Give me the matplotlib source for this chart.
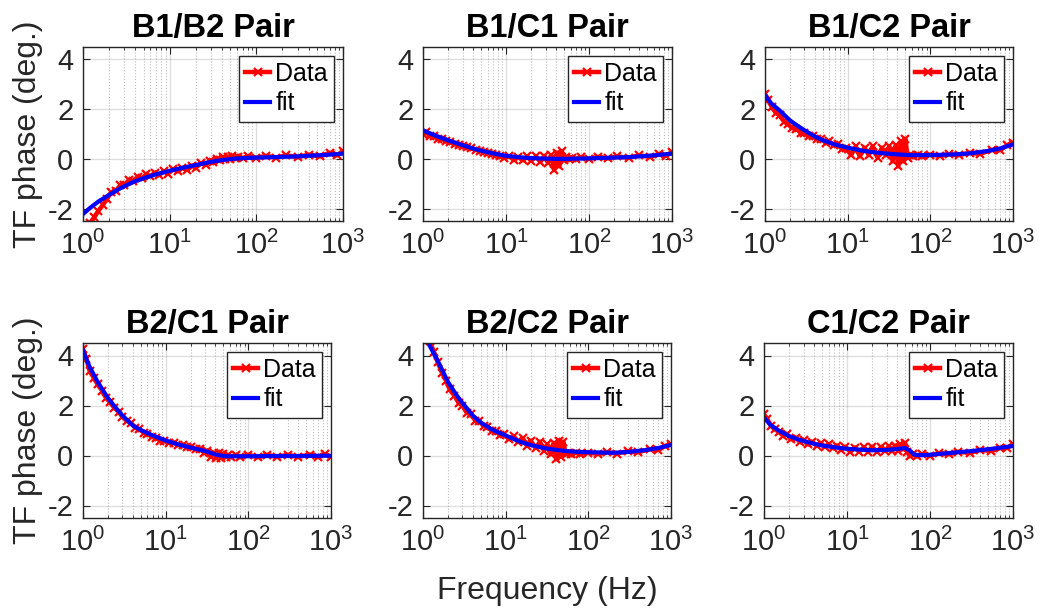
import numpy as np
import matplotlib
matplotlib.use("Agg")
import matplotlib.pyplot as plt
from matplotlib.ticker import LogLocator, NullFormatter

plt.rcParams['font.family'] = ['Liberation Sans', 'DejaVu Sans']
plt.rcParams['axes.unicode_minus'] = False

titles = ['B1/B2 Pair', 'B1/C1 Pair', 'B1/C2 Pair',
          'B2/C1 Pair', 'B2/C2 Pair', 'C1/C2 Pair']

# measured points (Hz)
data_f = [1, 1.1, 1.2, 1.35, 1.5, 1.7, 1.9, 2.1, 2.4, 2.7,
          3, 3.4, 3.8, 4.3, 4.8, 5.4, 6, 6.8, 7.6, 8.5,
          9.5, 11, 12.5, 14, 16, 18, 20, 23, 26, 29,
          32, 35, 38, 41, 44, 47, 50, 53, 57, 62,
          70, 80, 100, 130, 170, 220, 300, 400, 550, 700,
          850, 1000]

data_b1b2 = [-3.2, -2.9, -2.6, -2.35, -2.1, -1.85, -1.6, -1.35, -1.3, -1.05,
             -1.05, -0.85, -0.88, -0.72, -0.78, -0.62, -0.7, -0.55, -0.65, -0.5,
             -0.6, -0.42, -0.5, -0.36, -0.45, -0.28, -0.35, -0.18, -0.24, -0.08,
             -0.14, 0.0, -0.06, 0.06, -0.02, 0.08, 0.0, 0.1, 0.02, 0.09,
             0.03, 0.1, 0.04, 0.12, 0.05, 0.14, 0.07, 0.17, 0.1, 0.24,
             0.14, 0.3]
data_b1c1 = [1.0, 1.08, 0.92, 0.92, 0.8, 0.8, 0.7, 0.68, 0.58, 0.56,
             0.5, 0.46, 0.42, 0.37, 0.33, 0.28, 0.24, 0.2, 0.15, 0.1,
             0.04, 0.1, -0.05, 0.08, -0.06, 0.1, -0.08, 0.1, -0.12, 0.12,
             -0.15, 0.15, -0.45, 0.25, -0.3, 0.3, -0.05, 0.06, -0.02, 0.05,
             -0.01, 0.06, 0.0, 0.08, 0.02, 0.1, 0.04, 0.14, 0.08, 0.2,
             0.13, 0.27]
data_b1c2 = [2.62, 2.35, 2.1, 1.85, 1.75, 1.5, 1.4, 1.25, 1.2, 1.05,
             1.05, 0.9, 0.92, 0.78, 0.8, 0.65, 0.7, 0.55, 0.6, 0.4,
             0.45, 0.15, 0.5, 0.1, 0.45, 0.15, 0.5, 0.05, 0.45, 0.15,
             0.5, -0.1, 0.55, -0.3, 0.7, -0.1, 0.8, 0.05, 0.14, 0.1,
             0.16, 0.1, 0.17, 0.12, 0.19, 0.15, 0.24, 0.2, 0.36, 0.35,
             0.55, 0.65]
data_b2c1 = [4.25, 3.85, 3.4, 3.1, 2.85, 2.6, 2.3, 2.15, 1.9, 1.75,
             1.55, 1.38, 1.3, 1.12, 1.05, 0.92, 0.88, 0.75, 0.72, 0.6,
             0.6, 0.5, 0.52, 0.42, 0.44, 0.33, 0.36, 0.25, 0.28, 0.12,
             0.2, -0.05, 0.12, -0.1, 0.12, -0.1, 0.08, -0.06, 0.02, -0.06,
             0.02, -0.06, 0.03, -0.07, 0.03, -0.06, 0.03, -0.06, 0.04, -0.06,
             0.05, -0.05]
data_b2c2 = [5.2, 4.9, 4.6, 4.15, 3.75, 3.3, 3.0, 2.65, 2.4, 2.1,
             2.0, 1.7, 1.65, 1.4, 1.38, 1.18, 1.15, 0.98, 0.98, 0.82,
             0.85, 0.65, 0.78, 0.55, 0.7, 0.4, 0.6, 0.3, 0.55, 0.2,
             0.45, 0.05, 0.5, -0.15, 0.6, -0.05, 0.55, 0.05, 0.12, 0.06,
             0.12, 0.06, 0.12, 0.06, 0.13, 0.08, 0.17, 0.13, 0.25, 0.22,
             0.38, 0.45]
data_c1c2 = [1.65, 1.45, 1.2, 1.05, 0.95, 0.8, 0.85, 0.65, 0.72, 0.55,
             0.62, 0.45, 0.55, 0.4, 0.5, 0.35, 0.45, 0.3, 0.4, 0.22,
             0.35, 0.15, 0.32, 0.15, 0.33, 0.15, 0.35, 0.15, 0.35, 0.18,
             0.38, 0.18, 0.4, 0.2, 0.45, 0.25, 0.5, 0.15, -0.02, 0.05,
             -0.03, 0.06, 0.0, 0.1, 0.05, 0.15, 0.1, 0.22, 0.18, 0.3,
             0.3, 0.45]

# fitted curves (Hz)
fit_f = [1, 1.2, 1.5, 2, 2.5, 3, 4, 5, 7, 10, 15, 20, 30, 40, 50, 57, 65,
         80, 100, 200, 300, 500, 700, 1000]
fit_b1b2 = [-2.22, -1.98, -1.72, -1.45, -1.25, -1.1, -0.9, -0.78, -0.62, -0.48,
            -0.34, -0.25, -0.12, -0.05, -0.01, 0.01, 0.02, 0.04, 0.05, 0.08,
            0.1, 0.14, 0.17, 0.21]
fit_b1c1 = [1.15, 1.03, 0.9, 0.75, 0.64, 0.55, 0.42, 0.33, 0.22, 0.12,
            0.06, 0.03, 0.01, 0.0, 0.0, 0.0, 0.01, 0.01, 0.02, 0.05,
            0.07, 0.12, 0.16, 0.21]
fit_b1c2 = [2.55, 2.22, 1.95, 1.55, 1.32, 1.15, 0.9, 0.75, 0.58, 0.45,
            0.33, 0.27, 0.21, 0.18, 0.16, 0.15, 0.15, 0.15, 0.15, 0.18,
            0.22, 0.32, 0.42, 0.58]
fit_b2c1 = [4.2, 3.55, 2.95, 2.3, 1.9, 1.6, 1.2, 1.02, 0.8, 0.6,
            0.42, 0.32, 0.18, 0.04, -0.02, -0.03, -0.03, -0.03, -0.03, -0.02,
            -0.02, -0.02, -0.01, -0.01]
fit_b2c2 = [5.0, 4.4, 3.8, 2.95, 2.45, 2.1, 1.6, 1.32, 1.02, 0.8,
            0.55, 0.42, 0.29, 0.23, 0.19, 0.17, 0.16, 0.14, 0.13, 0.11,
            0.14, 0.22, 0.3, 0.42]
fit_c1c2 = [1.52, 1.22, 1.0, 0.78, 0.66, 0.58, 0.47, 0.4, 0.33, 0.27,
            0.23, 0.21, 0.22, 0.26, 0.3, 0.2, 0.03, 0.01, 0.03, 0.12,
            0.17, 0.25, 0.31, 0.38]

data_all = [data_b1b2, data_b1c1, data_b1c2, data_b2c1, data_b2c2, data_c1c2]
fit_all = [fit_b1b2, fit_b1c1, fit_b1c2, fit_b2c1, fit_b2c2, fit_c1c2]

# axes rectangles in pixels: left, right, top, bottom
W, H = 1041, 612
rects = [(83, 343, 47, 221), (423, 672, 47, 221), (765, 1013, 47, 221),
         (83, 331, 343, 518), (423, 671, 343, 518), (764, 1013, 343, 518)]

dark = (0.15, 0.15, 0.15)
fig = plt.figure(figsize=(W / 100, H / 100), dpi=100)

for i in range(6):
    l, r, t, b = rects[i]
    ax = fig.add_axes([l / W, 1 - b / H, (r - l) / W, (b - t) / H])
    ax.plot(data_f, data_all[i], '-x', color='r', lw=3.2, ms=6, mew=1.6,
            label='Data')
    ax.plot(fit_f, fit_all[i], '-', color='b', lw=3, label='fit')
    ax.set_xscale('log')
    ax.set_xlim(1, 1000)
    ax.set_ylim(-2.5, 4.5)
    ax.set_yticks([-2, 0, 2, 4])
    ax.xaxis.set_minor_locator(LogLocator(base=10, subs=np.arange(2, 10)))
    ax.xaxis.set_minor_formatter(NullFormatter())
    ax.grid(True, which='major', color=dark, alpha=0.15, lw=1)
    ax.grid(True, which='minor', axis='x', color=dark, alpha=0.3, lw=0.8,
            ls=':')
    ax.tick_params(which='both', direction='in', top=True, right=True,
                   colors=dark, labelsize=21, pad=7)
    ax.tick_params(which='major', length=5)
    ax.tick_params(which='minor', length=2.5)
    for s in ax.spines.values():
        s.set_color(dark)
        s.set_linewidth(1)
    ax.set_title(titles[i], fontsize=23.5, fontweight='bold', pad=7)
    leg = ax.legend(loc='upper right', fontsize=18, numpoints=1,
                    handlelength=1.0, handletextpad=0.2, borderpad=0.25,
                    labelspacing=0.22, borderaxespad=0.35, fancybox=False,
                    framealpha=1)
    leg.get_frame().set_edgecolor(dark)
    leg.get_frame().set_linewidth(1)
    if i % 3 == 0:
        ax.set_ylabel('TF phase (deg.)', fontsize=23, color=dark, labelpad=3)
    if i == 4:
        ax.set_xlabel('Frequency (Hz)', fontsize=23, color=dark, labelpad=14)

fig.savefig('out.png', dpi=100)
